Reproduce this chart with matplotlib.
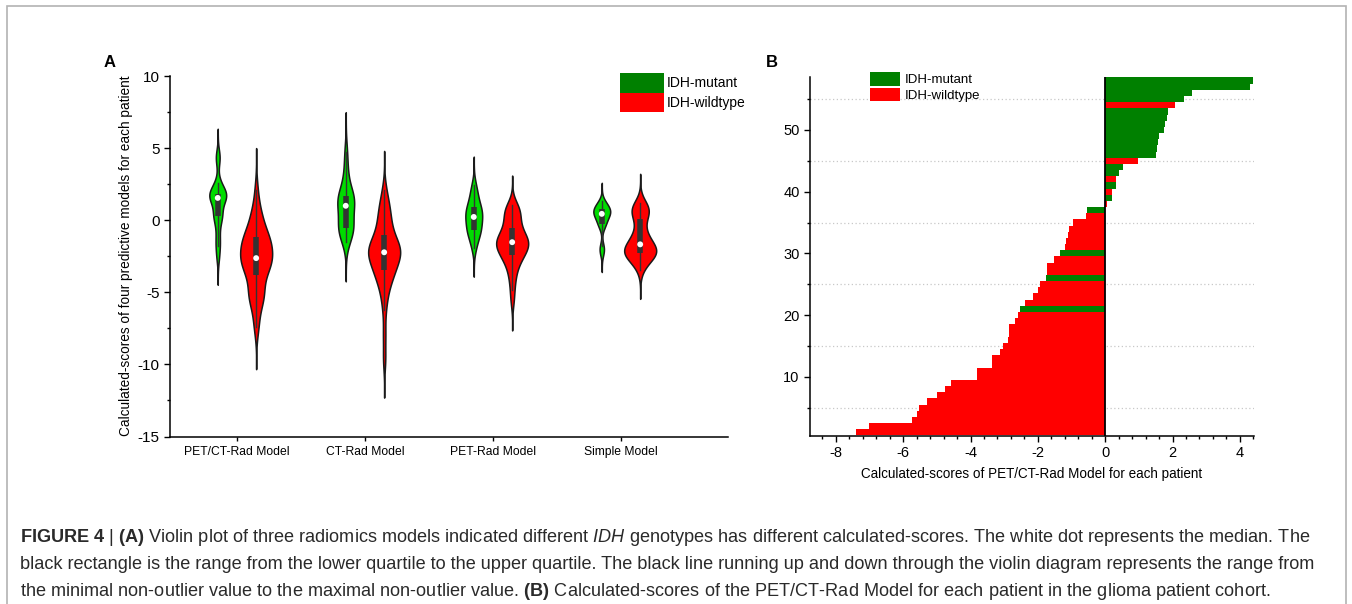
import numpy as np
import matplotlib
matplotlib.use("Agg")
import matplotlib.pyplot as plt
from matplotlib.patches import Patch, Rectangle
from matplotlib.ticker import MultipleLocator

plt.rcParams['font.family'] = ['Liberation Sans', 'DejaVu Sans']
plt.rcParams['axes.unicode_minus'] = False
plt.rcParams['mathtext.fontset'] = 'custom'
plt.rcParams['mathtext.rm'] = 'Liberation Sans'
plt.rcParams['mathtext.bf'] = 'Liberation Sans:bold'
plt.rcParams['mathtext.it'] = 'Liberation Sans:italic'

# ---- panel B data: PET/CT-Rad score per patient (sorted), M = IDH-mutant, W = IDH-wildtype
petct_scores = [-7.41, -7.02, -5.73, -5.58, -5.52, -5.30, -5.00, -4.75, -4.57, -3.82,
                -3.82, -3.37, -3.37, -3.12, -3.03, -2.90, -2.87, -2.85, -2.68, -2.58,
                -2.53, -2.39, -2.14, -1.99, -1.94, -1.76, -1.74, -1.74, -1.52, -1.33,
                -1.18, -1.17, -1.12, -1.07, -0.97, -0.58, -0.55, 0.05, 0.20, 0.20,
                0.31, 0.33, 0.41, 0.52, 0.97, 1.50, 1.53, 1.56, 1.61, 1.76,
                1.79, 1.83, 1.86, 2.08, 2.33, 2.58, 4.29, 4.39]
genotype = (['W'] * 20 + ['M'] + ['W'] * 4 + ['M'] + ['W'] * 3 + ['M'] + ['W'] * 6
            + ['M', 'W', 'M', 'W', 'M', 'W', 'M', 'M', 'W'] + ['M'] * 8 + ['W'] + ['M'] * 4)

# ---- panel A data: estimated scores of the other three models
ct_mut = [-1.50, -1.10, -0.80, -0.65, -0.58, -0.50, -0.20, 0.10, 0.50, 0.90,
          1.10, 1.25, 1.40, 1.55, 1.65, 1.75, 2.10, 2.80, 3.60, 4.75]
ct_wild = [-9.6, -7.9, -6.2, -5.3, -4.8, -4.4, -4.1, -3.85, -3.7, -3.5,
           -3.4, -3.2, -3.0, -2.85, -2.7, -2.55, -2.4, -2.3, -2.25, -2.2,
           -2.1, -2.0, -1.9, -1.8, -1.7, -1.6, -1.5, -1.1, -1.0, -0.8,
           -0.5, -0.2, 0.1, 0.4, 0.7, 1.0, 1.4, 2.1]
pet_mut = [-1.95, -1.5, -1.1, -0.85, -0.75, -0.7, -0.45, -0.2, 0.0, 0.15,
           0.3, 0.45, 0.55, 0.7, 0.9, 1.05, 1.3, 1.7, 2.0, 2.44]
pet_wild = [-5.6, -4.84, -4.2, -3.8, -3.4, -3.1, -2.9, -2.7, -2.55, -2.45,
            -2.3, -2.2, -2.1, -2.0, -1.9, -1.8, -1.7, -1.62, -1.55, -1.5,
            -1.45, -1.38, -1.3, -1.2, -1.1, -0.95, -0.8, -0.65, -0.53, -0.3,
            -0.1, 0.1, 0.3, 0.5, 0.65, 0.8, 0.95, 1.05]
simple_mut = [-2.3, -2.0, -1.8, -0.5, -0.3, -0.25, 0.0, 0.15, 0.3, 0.4,
              0.48, 0.52, 0.58, 0.62, 0.75, 0.82, 0.9, 1.0, 1.15, 1.3]
simple_wild = [-3.44, -3.1, -2.9, -2.75, -2.6, -2.5, -2.45, -2.4, -2.35, -2.3,
               -2.25, -2.2, -2.15, -2.1, -2.05, -2.0, -1.95, -1.85, -1.75, -1.6,
               -1.5, -1.4, -1.3, -1.15, -1.0, -0.8, -0.5, -0.1, 0.1, 0.35,
               0.5, 0.6, 0.7, 0.8, 0.85, 0.9, 1.0, 1.2]
models = ['PET/CT-Rad Model', 'CT-Rad Model', 'PET-Rad Model', 'Simple Model']

petct_mut = [s for s, g in zip(petct_scores, genotype) if g == 'M']
petct_wild = [s for s, g in zip(petct_scores, genotype) if g == 'W']
mut_groups = [petct_mut, ct_mut, pet_mut, simple_mut]
wild_groups = [petct_wild, ct_wild, pet_wild, simple_wild]

GREEN_V = '#00dc00'
GREEN = '#008000'
RED = '#ff0000'


def violin(ax, d, pos, color, half):
    d = np.asarray(d, float)
    q1, med, q3 = np.percentile(d, [25, 50, 75])
    iqr = q3 - q1
    bw = 0.9 * min(d.std(ddof=1), iqr / 1.34) * len(d) ** -0.2
    y = np.linspace(d.min() - 3.4 * bw, d.max() + 3.4 * bw, 400)
    dens = np.exp(-0.5 * ((y[:, None] - d[None, :]) / bw) ** 2).sum(1)
    w = dens / dens.max() * half
    ax.fill_betweenx(y, pos - w, pos + w, facecolor=color, edgecolor='#1a1a1a',
                     lw=1.1, zorder=2)
    lo = d[d >= q1 - 1.5 * iqr].min()
    hi = d[d <= q3 + 1.5 * iqr].max()
    ax.plot([pos, pos], [lo, hi], color='#333333', lw=1.0, zorder=3)
    ax.plot([pos, pos], [q1, q3], color='#333333', lw=4.0, solid_capstyle='butt', zorder=3)
    ax.scatter([pos], [med], s=18, color='white', edgecolors='none', zorder=4)


fig = plt.figure(figsize=(13.52, 6.04), dpi=100)

# ---------------- panel A
axA = fig.add_axes([170 / 1352, 167.5 / 604, 558 / 1352, 360.5 / 604])
nmax = max(len(g) for g in wild_groups)
for i, (m, w) in enumerate(zip(mut_groups, wild_groups)):
    violin(axA, m, i + 1 - 0.15, GREEN_V, 0.125 * len(m) / nmax)
    violin(axA, w, i + 1 + 0.15, RED, 0.125 * len(w) / nmax)
axA.set_xlim(0.477, 4.836)
axA.set_ylim(-15, 10)
axA.set_xticks(range(1, 5))
axA.set_xticklabels(models, fontsize=8.7)
axA.yaxis.set_major_locator(MultipleLocator(5))
axA.yaxis.set_minor_locator(MultipleLocator(2.5))
axA.tick_params(axis='y', labelsize=11, length=4, width=1)
axA.tick_params(axis='y', which='minor', length=2.5, width=1)
axA.tick_params(axis='x', length=3, width=1, pad=4)
for s in ['top', 'right']:
    axA.spines[s].set_visible(False)
for s in ['left', 'bottom']:
    axA.spines[s].set_linewidth(1.1)
axA.set_ylabel('Calculated-scores of four predictive models for each patient', fontsize=9.8,
               labelpad=3)
axA.legend(handles=[Patch(facecolor=GREEN, label='IDH-mutant'),
                    Patch(facecolor=RED, label='IDH-wildtype')],
           loc='upper left', bbox_to_anchor=(620 / 1352, 1 - 73 / 604),
           bbox_transform=fig.transFigure, frameon=False, fontsize=10,
           handlelength=3.2, handleheight=1.8, handletextpad=0.2,
           labelspacing=0.0, borderpad=0, borderaxespad=0)

# ---------------- panel B
axB = fig.add_axes([810 / 1352, 168 / 604, 444 / 1352, 359 / 604])
patients = np.arange(1, len(petct_scores) + 1)
colors = [GREEN if g == 'M' else RED for g in genotype]
axB.barh(patients, petct_scores, height=1.0, color=colors, linewidth=0, zorder=2)
axB.axvline(0, color='black', lw=1.3, zorder=3)
axB.set_xlim(-8.77, 4.42)
axB.set_ylim(0.4, 58.58)
axB.xaxis.set_major_locator(MultipleLocator(2))
axB.xaxis.set_minor_locator(MultipleLocator(0.4))
axB.set_yticks([10, 20, 30, 40, 50])
axB.set_yticks([5, 15, 25, 35, 45, 55], minor=True)
axB.grid(which='minor', axis='y', linestyle=(0, (1, 2)), color='#c8c8c8', lw=0.9, zorder=0)
axB.set_axisbelow(True)
axB.tick_params(axis='both', which='major', labelsize=10.5, length=4, width=1)
axB.tick_params(axis='both', which='minor', length=2.5, width=1)
for s in ['top', 'right']:
    axB.spines[s].set_visible(False)
for s in ['left', 'bottom']:
    axB.spines[s].set_linewidth(1.1)
axB.set_xlabel('Calculated-scores of PET/CT-Rad Model for each patient', fontsize=9.75,
               labelpad=5)
axB.legend(handles=[Patch(facecolor=GREEN, label='IDH-mutant'),
                    Patch(facecolor=RED, label='IDH-wildtype')],
           loc='upper left', bbox_to_anchor=(870 / 1352, 1 - 72 / 604),
           bbox_transform=fig.transFigure, frameon=False, fontsize=9.5,
           handlelength=2.3, handleheight=1.2, handletextpad=0.3,
           labelspacing=0.1, borderpad=0, borderaxespad=0)

# panel letters
fig.text(110 / 1352, 1 - 62.5 / 604, 'A', fontsize=12, fontweight='bold', ha='center', va='center')
fig.text(772 / 1352, 1 - 62.5 / 604, 'B', fontsize=12, fontweight='bold', ha='center', va='center')

# caption
cap = [r'$\mathbf{FIGURE\ 4}$ | $\mathbf{(A)}$ Violin plot of three radiomics models indicated different '
       r'$\mathit{IDH}$ genotypes has different calculated-scores. The white dot represents the median. The',
       'black rectangle is the range from the lower quartile to the upper quartile. The black line running '
       'up and down through the violin diagram represents the range from',
       r'the minimal non-outlier value to the maximal non-outlier value. $\mathbf{(B)}$ Calculated-scores '
       'of the PET/CT-Rad Model for each patient in the glioma patient cohort.']
for k, line in enumerate(cap):
    fig.text(20 / 1352, 1 - (537 + 27.5 * k) / 604, line, fontsize=13.1, color='#2a2a2a',
             ha='left', va='center')

# outer frame
fig.add_artist(Rectangle((6.5 / 1352, -0.1), (1346 - 6.5) / 1352, 1.1 - 6.5 / 604,
                         transform=fig.transFigure, fill=False, ec='#b3b3b3', lw=1.2))

fig.savefig('out.png', dpi=100)
